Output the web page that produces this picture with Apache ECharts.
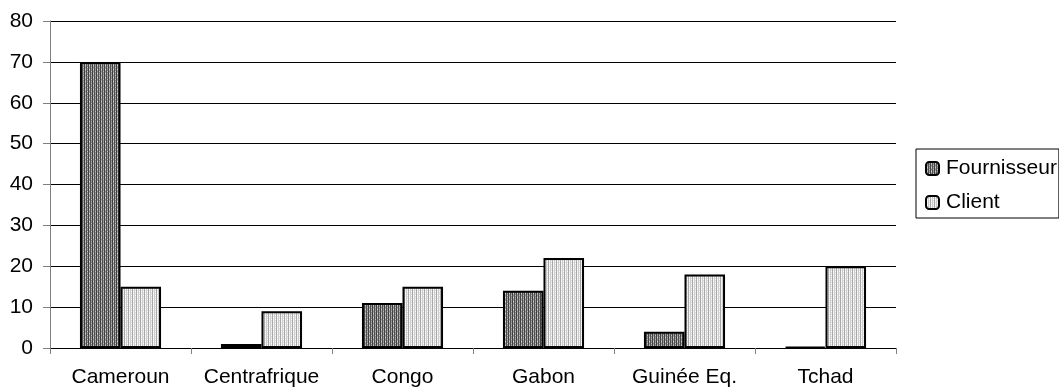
<!DOCTYPE html>
<html>
<head>
<meta charset="utf-8">
<script src="https://cdn.jsdelivr.net/npm/echarts@6/dist/echarts.min.js"></script>
<style>
  html, body { margin: 0; padding: 0; background: #fff; }
  #chart { width: 1059px; height: 388px; }
</style>
</head>
<body>
<div id="chart"></div>
<script>
// ---- Data ----
const categories = ['Cameroun', 'Centrafrique', 'Congo', 'Gabon', 'Guinée Eq.', 'Tchad'];
const fournisseur = [70, 1, 11, 14, 4, 0.3];
const client = [15, 9, 15, 22, 18, 20];
const seriesNames = ['Fournisseur', 'Client'];

// ---- Fill patterns ----
function makePattern(rows) {
  const c = document.createElement('canvas');
  c.width = rows[0].length; c.height = rows.length;
  const ctx = c.getContext('2d');
  rows.forEach((row, y) => row.forEach((col, x) => {
    ctx.fillStyle = col; ctx.fillRect(x, y, 1, 1);
  }));
  return { image: c, repeat: 'repeat' };
}
const darkPat = makePattern([
  ['#404040', '#a8a8a8', '#505050', '#8c8c8c'],
  ['#404040', '#d0d0d0', '#505050', '#a0a0a0'],
  ['#404040', '#a8a8a8', '#505050', '#8c8c8c'],
  ['#404040', '#909090', '#505050', '#c0c0c0']
]);
const lightPat = makePattern([
  ['#a8a8a8', '#f0f0f0', '#cccccc', '#e0e0e0'],
  ['#a8a8a8', '#ffffff', '#cccccc', '#f4f4f4'],
  ['#a8a8a8', '#e8e8e8', '#cccccc', '#e0e0e0'],
  ['#a8a8a8', '#f8f8f8', '#cccccc', '#ffffff']
]);

const FONT = 'Liberation Sans, Arial, sans-serif';
const chart = echarts.init(document.getElementById('chart'), null, { renderer: 'canvas' });
chart.setOption({
  animation: false,
  backgroundColor: '#fff',
  grid: { left: 50, right: 163, top: 21, bottom: 40, containLabel: false },
  legend: {
    orient: 'vertical',
    left: 916, top: 149,
    padding: [9, 2, 5, 9],
    itemWidth: 13, itemHeight: 13, itemGap: 13,
    borderColor: '#000', borderWidth: 1,
    textStyle: { fontFamily: FONT, fontSize: 21, color: '#000', padding: [0, 0, 0, 2] },
    data: seriesNames
  },
  xAxis: {
    type: 'category',
    data: categories,
    boundaryGap: true,
    axisLine: { show: true, lineStyle: { color: '#000', width: 1 } },
    axisTick: { show: true, length: 6, lineStyle: { color: '#808080' } },
    axisLabel: { fontFamily: FONT, fontSize: 21, color: '#000', margin: 19, interval: 0 },
    splitLine: { show: false }
  },
  yAxis: {
    type: 'value',
    min: 0, max: 80, interval: 10,
    axisLine: { show: true, lineStyle: { color: '#808080', width: 1 } },
    axisTick: { show: true, length: 7, lineStyle: { color: '#808080' } },
    axisLabel: { fontFamily: FONT, fontSize: 21, color: '#000', margin: 17 },
    splitLine: { show: true, lineStyle: { color: '#000', width: 1 } }
  },
  series: [
    {
      name: seriesNames[0], type: 'bar', data: fournisseur,
      barGap: '0%', barCategoryGap: '42.5%',
      itemStyle: { color: darkPat, borderColor: '#000', borderWidth: 2 }
    },
    {
      name: seriesNames[1], type: 'bar', data: client,
      barGap: '0%', barCategoryGap: '42.5%',
      itemStyle: { color: lightPat, borderColor: '#000', borderWidth: 2 }
    }
  ]
});
</script>
</body>
</html>
